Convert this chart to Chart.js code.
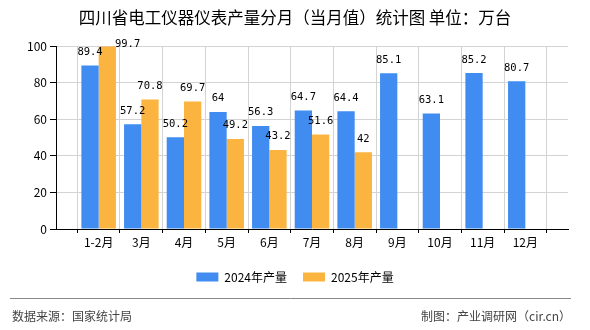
<!DOCTYPE html>
<html>
<head>
<meta charset="utf-8">
<script src="https://cdn.jsdelivr.net/npm/chart.js@4/dist/chart.umd.min.js"></script>
<style>
  html, body { margin: 0; padding: 0; background: #fff; }
  #chart { display: block; }
</style>
</head>
<body>
<canvas id="chart" width="590" height="330"></canvas>
<script>
// ==================== DATA ====================
const months = ['1-2月', '3月', '4月', '5月', '6月', '7月', '8月', '9月', '10月', '11月', '12月'];
const output2024 = [89.4, 57.2, 50.2, 64, 56.3, 64.7, 64.4, 85.1, 63.1, 85.2, 80.7];
const output2025 = [99.7, 70.8, 69.7, 49.2, 43.2, 51.6, 42];
const seriesNames = ['2024年产量', '2025年产量'];
const yMax = 100;
const yStep = 20;

const titleText = '四川省电工仪器仪表产量分月（当月值）统计图 单位：万台';
const sourceText = '数据来源：国家统计局';
const creditText = '制图：产业调研网（cir.cn）';

// bars sit on the ticks, so pad the axis with an empty slot on each side
const axisLabels = ['', ...months, ''];
function padSeries(values) {
    const out = [null];
    for (let i = 0; i < months.length; i++) out.push(i < values.length ? values[i] : null);
    out.push(null);
    return out;
}

Chart.defaults.font.family = "'Noto Sans CJK SC', sans-serif";
Chart.defaults.color = '#000';

// value labels above each bar
const valueLabels = {
    id: 'valueLabels',
    afterDatasetsDraw(chart) {
        const { ctx, chartArea } = chart;
        ctx.save();
        ctx.font = "10.5px 'DejaVu Sans Mono', monospace";
        ctx.fillStyle = '#000';
        ctx.textBaseline = 'bottom';
        chart.data.datasets.forEach((ds, di) => {
            const meta = chart.getDatasetMeta(di);
            meta.data.forEach((bar, i) => {
                const v = ds.data[i];
                if (v === null || v === undefined) return;
                let y = bar.y - 8;
                if (y < chartArea.top + 4) {
                    // no room above: put it beside the bar
                    ctx.textAlign = 'left';
                    ctx.fillText(String(v), bar.x + bar.width / 2 - 1, chartArea.top + 4);
                } else {
                    ctx.textAlign = 'center';
                    ctx.fillText(String(v), bar.x, y);
                }
            });
        });
        ctx.restore();
    }
};

// source line at the bottom
const footer = {
    id: 'footer',
    afterDraw(chart) {
        const ctx = chart.ctx;
        ctx.save();
        ctx.strokeStyle = '#888';
        ctx.lineWidth = 1;
        ctx.beginPath();
        ctx.moveTo(10, 298.5);
        ctx.lineTo(571, 298.5);
        ctx.stroke();
        ctx.font = "12px 'Noto Sans CJK SC', sans-serif";
        ctx.fillStyle = '#444';
        ctx.textBaseline = 'middle';
        ctx.textAlign = 'left';
        ctx.fillText(sourceText, 12, 316);
        ctx.textAlign = 'right';
        ctx.fillText(creditText, 571, 316);
        ctx.restore();
    }
};

const ctx = document.getElementById('chart').getContext('2d');
const chart = new Chart(ctx, {
    type: 'bar',
    data: {
        labels: axisLabels,
        datasets: [{
            label: seriesNames[0],
            data: padSeries(output2024),
            backgroundColor: '#418CF0',
            borderWidth: 0,
            inflateAmount: 0,
            categoryPercentage: 0.81,
            barPercentage: 1
        }, {
            label: seriesNames[1],
            data: padSeries(output2025),
            backgroundColor: '#FCB441',
            borderWidth: 0,
            inflateAmount: 0,
            categoryPercentage: 0.81,
            barPercentage: 1
        }]
    },
    options: {
        responsive: false,
        animation: false,
        devicePixelRatio: 1,
        layout: { padding: { left: 0, right: 0, top: 0, bottom: 37 } },
        plugins: {
            title: {
                display: true,
                text: titleText,
                color: '#000',
                font: { size: 16.5, weight: 'normal' },
                padding: { top: 7.4, bottom: 18.8 }
            },
            legend: {
                position: 'bottom',
                labels: {
                    boxWidth: 22,
                    boxHeight: 9,
                    padding: 16,
                    color: '#000',
                    font: { size: 12 }
                }
            },
            tooltip: { enabled: false }
        },
        scales: {
            x: {
                offset: false,
                grid: { color: '#d3d3d3', tickColor: '#000', tickLength: 4 },
                border: { color: '#000' },
                ticks: { autoSkip: false, maxRotation: 0, padding: 2, font: { size: 12 }, color: '#000' },
                afterFit(scale) { scale.height = 26; }
            },
            y: {
                min: 0,
                max: yMax,
                grid: { color: '#d3d3d3', tickColor: '#000', tickLength: 6 },
                border: { color: '#000' },
                ticks: { stepSize: yStep, padding: 3, font: { size: 12 }, color: '#000' },
                afterFit(scale) { scale.width = 56; }
            },
            // empty right-hand margin so title and legend stay centred on the canvas
            yRight: {
                position: 'right',
                min: 0,
                max: yMax,
                grid: { display: false },
                border: { display: false },
                ticks: { display: false },
                afterFit(scale) { scale.width = 22; }
            }
        }
    },
    plugins: [valueLabels, footer]
});
</script>
</body>
</html>
